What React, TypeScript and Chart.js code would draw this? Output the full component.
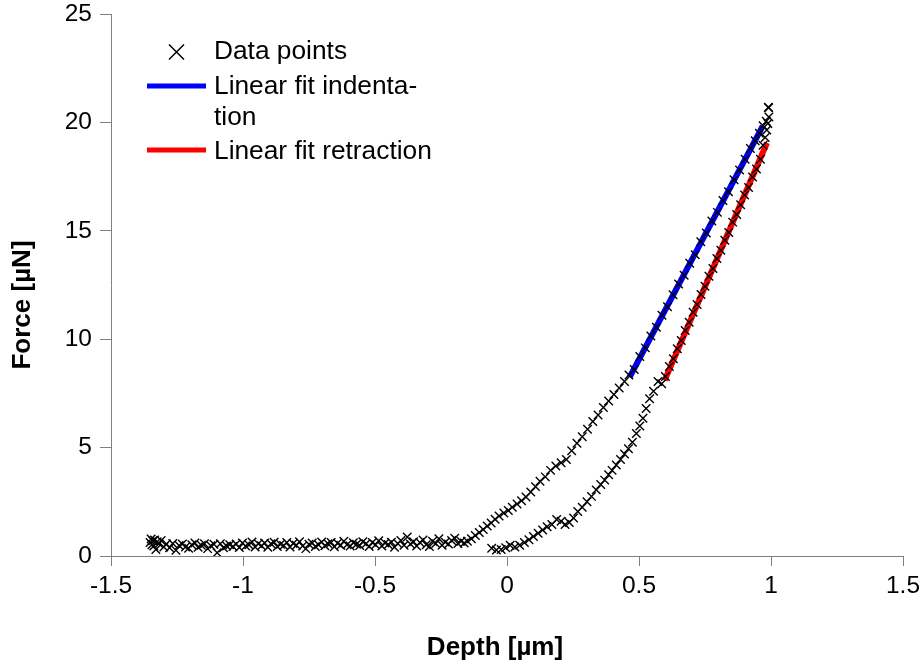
import React, { useEffect, useRef } from "react";
import { Chart, registerables } from "chart.js";

Chart.register(...registerables);

// X axis ticks (depth, µm) and Y axis ticks (force, µN)
const xTicks = [-1.5, -1, -0.5, 0, 0.5, 1, 1.5];
const yTicks = [0, 5, 10, 15, 20, 25];

// Baseline (approach, before contact)
const flatDepth = [
  -1.352, -1.348, -1.345, -1.342, -1.338, -1.335, -1.33, -1.325, -1.318, -1.31, -1.3, -1.29,
  -1.278, -1.266, -1.254, -1.242, -1.23, -1.218, -1.206, -1.194, -1.182, -1.17,
  -1.158, -1.146, -1.134, -1.122, -1.11, -1.098, -1.086, -1.074, -1.062, -1.05,
  -1.038, -1.026, -1.014, -1.002, -0.99, -0.978, -0.966, -0.954, -0.942, -0.93,
  -0.918, -0.906, -0.894, -0.882, -0.87, -0.858, -0.846, -0.834, -0.822, -0.81,
  -0.798, -0.786, -0.774, -0.762, -0.75, -0.738, -0.726, -0.714, -0.702, -0.69,
  -0.678, -0.666, -0.654, -0.642, -0.63, -0.618, -0.606, -0.594, -0.582, -0.57,
  -0.558, -0.546, -0.534, -0.522, -0.51, -0.498, -0.486, -0.474, -0.462, -0.45,
  -0.438, -0.426, -0.414, -0.402, -0.39, -0.378, -0.366, -0.354, -0.342, -0.33,
  -0.318, -0.306, -0.294, -0.282, -0.27, -0.258, -0.246, -0.234, -0.222, -0.21,
  -0.198, -0.186, -0.174, -0.162,
];
const flatForce = [
  0.62, 0.78, 0.52, 0.7, 0.46, 0.74, 0.3, 0.66, 0.56, 0.72, 0.42, 0.55,
  0.38, 0.58, 0.26, 0.48, 0.55, 0.42, 0.36, 0.52, 0.6, 0.4,
  0.5, 0.56, 0.34, 0.47, 0.54, 0.15, 0.57, 0.38, 0.46, 0.52,
  0.44, 0.55, 0.39, 0.6, 0.46, 0.52, 0.65, 0.42, 0.56, 0.47,
  0.6, 0.4, 0.57, 0.63, 0.44, 0.54, 0.48, 0.62, 0.42, 0.58,
  0.5, 0.66, 0.46, 0.34, 0.54, 0.6, 0.44, 0.52, 0.65, 0.47,
  0.56, 0.62, 0.43, 0.59, 0.5, 0.68, 0.52, 0.46, 0.61, 0.54,
  0.48, 0.66, 0.56, 0.44, 0.62, 0.52, 0.7, 0.46, 0.6, 0.53,
  0.64, 0.4, 0.58, 0.72, 0.5, 0.88, 0.55, 0.66, 0.46, 0.62,
  0.74, 0.52, 0.44, 0.68, 0.58, 0.8, 0.5, 0.64, 0.55, 0.72,
  0.82, 0.58, 0.68, 0.6,
];

// Loading (indentation) branch
const loadDepth = [
  -0.15, -0.135, -0.12, -0.105, -0.09, -0.075, -0.06, -0.045, -0.03, -0.012,
  0.005, 0.02, 0.038, 0.055, 0.072, 0.09, 0.108, 0.125, 0.145, 0.165,
  0.185, 0.205, 0.225, 0.245, 0.265, 0.285, 0.305, 0.325, 0.345, 0.365,
  0.385, 0.405, 0.425, 0.445, 0.462, 0.482, 0.503, 0.524, 0.545, 0.566,
  0.587, 0.608, 0.629, 0.65, 0.671, 0.692, 0.713, 0.734, 0.755, 0.776,
  0.797, 0.818, 0.839, 0.86, 0.881, 0.902, 0.922, 0.94, 0.956, 0.97,
  0.982, 0.99, 0.991,
];
const loadForce = [
  0.68, 0.8, 0.95, 1.08, 1.22, 1.38, 1.52, 1.7, 1.85, 1.98,
  2.1, 2.25, 2.4, 2.55, 2.72, 2.95, 3.2, 3.45, 3.65, 3.95,
  4.15, 4.3, 4.45, 4.85, 5.2, 5.5, 5.85, 6.2, 6.5, 6.85,
  7.15, 7.45, 7.75, 8.05, 8.35, 8.6, 9.2, 9.6, 10.15, 10.55,
  11.1, 11.5, 12.05, 12.55, 12.95, 13.5, 13.9, 14.5, 14.9, 15.45,
  15.85, 16.4, 16.8, 17.35, 17.8, 18.3, 18.8, 19.15, 19.5, 19.85,
  20.05, 20.7, 20.68,
];

// Unloading (retraction) branch
const unloadDepth = [
  0.992, 0.988, 0.984, 0.978, 0.97, 0.96, 0.945, 0.93, 0.915, 0.9,
  0.885, 0.87, 0.855, 0.84, 0.825, 0.81, 0.795, 0.78, 0.765, 0.75,
  0.735, 0.72, 0.705, 0.69, 0.675, 0.66, 0.645, 0.63, 0.615, 0.6,
  0.586, 0.572, 0.555, 0.54, 0.527, 0.515, 0.503, 0.49, 0.475, 0.46,
  0.445, 0.43, 0.414, 0.398, 0.385, 0.37, 0.355, 0.338, 0.32, 0.303,
  0.285, 0.268, 0.252, 0.236, 0.22, 0.205, 0.188, 0.17, 0.152, 0.135,
  0.118, 0.1, 0.083, 0.066, 0.048, 0.03, 0.012, -0.005, -0.022, -0.04,
  -0.058,
];
const unloadForce = [
  20.25, 19.95, 19.65, 19.3, 18.95, 18.3, 17.85, 17.48, 17.0, 16.65,
  16.2, 15.75, 15.4, 14.92, 14.56, 14.1, 13.72, 13.26, 12.9, 12.44,
  12.06, 11.6, 11.24, 10.78, 10.4, 9.94, 9.56, 9.1, 8.74, 8.28,
  7.95, 8.05, 7.6, 7.25, 6.8, 6.35, 6.0, 5.65, 5.25, 4.95,
  4.7, 4.45, 4.2, 3.95, 3.75, 3.5, 3.3, 3.05, 2.75, 2.5,
  2.25, 2.05, 1.75, 1.55, 1.45, 1.6, 1.68, 1.45, 1.35, 1.2,
  1.05, 0.9, 0.75, 0.62, 0.5, 0.42, 0.5, 0.38, 0.3, 0.28,
  0.36,
];

// Linear fits (end points)
const fitIndentDepth = [0.464, 0.969];
const fitIndentForce = [8.24, 19.84];
const fitRetractDepth = [0.597, 0.985];
const fitRetractForce = [8.1, 19.06];

const legendLabels = ["Data points", "Linear fit indenta-", "tion", "Linear fit retraction"];
const xTitle = "Depth [µm]";
const yTitle = "Force [µN]";

const FONT = '"Liberation Sans", Arial, sans-serif';

const toPts = (xs: number[], ys: number[]) => xs.map((x, i) => ({ x, y: ys[i] }));

const overlayPlugin = {
  id: "overlay",
  afterDraw(chart: any) {
    const ctx = chart.ctx as CanvasRenderingContext2D;
    ctx.save();
    // Legend
    ctx.strokeStyle = "#000";
    ctx.lineWidth = 1.5;
    const mx = 176.5, my = 52, ms = 7.5;
    ctx.beginPath();
    ctx.moveTo(mx - ms, my - ms);
    ctx.lineTo(mx + ms, my + ms);
    ctx.moveTo(mx + ms, my - ms);
    ctx.lineTo(mx - ms, my + ms);
    ctx.stroke();

    ctx.lineWidth = 5;
    ctx.strokeStyle = "#0000ff";
    ctx.beginPath();
    ctx.moveTo(147, 86);
    ctx.lineTo(206, 86);
    ctx.stroke();
    ctx.strokeStyle = "#ff0000";
    ctx.beginPath();
    ctx.moveTo(147, 150);
    ctx.lineTo(206, 150);
    ctx.stroke();

    ctx.fillStyle = "#000";
    ctx.font = `26.3px ${FONT}`;
    ctx.textAlign = "left";
    ctx.textBaseline = "middle";
    const ys = [52, 87, 118, 152];
    legendLabels.forEach((t, i) => ctx.fillText(t, 214, ys[i]));

    // Axis titles
    ctx.font = `bold 26px ${FONT}`;
    ctx.textAlign = "center";
    ctx.fillText(xTitle, 495, 648);
    ctx.translate(23, 305);
    ctx.rotate(-Math.PI / 2);
    ctx.fillText(yTitle, 0, 0);
    ctx.restore();
  },
};

export default function App() {
  const ref = useRef<HTMLCanvasElement | null>(null);
  useEffect(() => {
    if (!ref.current) return;
    const axisColor = "#808080";
    const chart = new Chart(ref.current, {
      type: "scatter",
      data: {
        datasets: [
          {
            label: "Data points",
            data: [
              ...toPts(flatDepth, flatForce),
              ...toPts(loadDepth, loadForce),
              ...toPts(unloadDepth, unloadForce),
            ],
            pointStyle: "crossRot",
            pointRadius: 6,
            pointBorderWidth: 1.4,
            borderColor: "#000",
            backgroundColor: "#000",
            showLine: false,
          },
          {
            label: "Linear fit indentation",
            type: "line",
            data: toPts(fitIndentDepth, fitIndentForce),
            borderColor: "#0000ff",
            borderWidth: 6,
            pointRadius: 0,
            showLine: true,
          },
          {
            label: "Linear fit retraction",
            type: "line",
            data: toPts(fitRetractDepth, fitRetractForce),
            borderColor: "#ff0000",
            borderWidth: 6,
            pointRadius: 0,
            showLine: true,
          },
        ],
      } as any,
      options: {
        responsive: false,
        animation: false,
        layout: { autoPadding: false, padding: { top: 14, right: 19, left: 0, bottom: 0 } },
        plugins: { legend: { display: false }, tooltip: { enabled: false } },
        scales: {
          x: {
            type: "linear",
            min: -1.5,
            max: 1.5,
            afterBuildTicks: (s: any) => {
              s.ticks = xTicks.map((v) => ({ value: v }));
            },
            afterFit: (s: any) => {
              s.height = 110;
              s.paddingLeft = 0;
              s.paddingRight = 0;
            },
            ticks: {
              color: "#000",
              font: { family: FONT, size: 24.5 },
              padding: 6,
              callback: (v: any) => String(v),
            },
            grid: { drawOnChartArea: false, drawTicks: true, tickLength: 10, color: axisColor },
            border: { display: true, color: axisColor, width: 1 },
          },
          y: {
            type: "linear",
            min: 0,
            max: 25,
            afterBuildTicks: (s: any) => {
              s.ticks = yTicks.map((v) => ({ value: v }));
            },
            afterFit: (s: any) => {
              s.width = 111;
              s.paddingTop = 0;
              s.paddingBottom = 0;
            },
            ticks: {
              color: "#000",
              font: { family: FONT, size: 24.5 },
              padding: 8,
              callback: (v: any) => String(v),
            },
            grid: { drawOnChartArea: false, drawTicks: true, tickLength: 11, color: axisColor },
            border: { display: true, color: axisColor, width: 1 },
          },
        },
      } as any,
      plugins: [overlayPlugin],
    });
    return () => chart.destroy();
  }, []);
  return (
    <div style={{ position: "absolute", left: 0, top: 0, width: 922, height: 666, background: "#fff" }}>
      <canvas ref={ref} width={922} height={666} style={{ display: "block" }} />
    </div>
  );
}
